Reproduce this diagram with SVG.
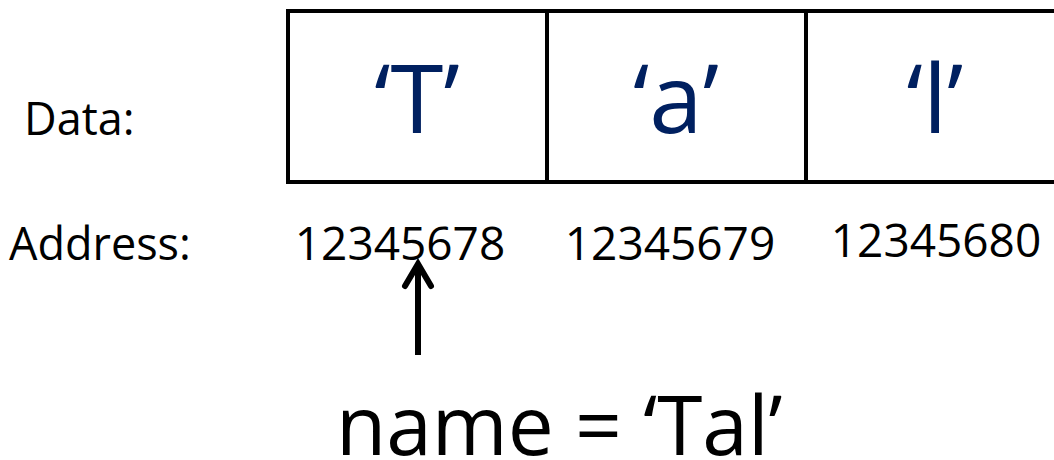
<svg xmlns="http://www.w3.org/2000/svg" width="1054" height="460" viewBox="0 0 1054 460">
  <style>
    .cell { fill: #ffffff; stroke: #000000; stroke-width: 4; }
    .val { font-family: "Open Sans", "Noto Sans", sans-serif; font-size: 96px; fill: #002060; text-anchor: middle; }
    .lbl { font-family: "Open Sans", "Noto Sans", sans-serif; font-size: 45px; fill: #000000; }
    .addr { font-family: "Open Sans", "Noto Sans", sans-serif; font-size: 46px; fill: #000000; text-anchor: middle; }
    .big { font-family: "Open Sans", "Noto Sans", sans-serif; font-size: 82px; fill: #000000; }
    .conn { stroke: #000000; stroke-width: 6; fill: none; }
  </style>
  <rect width="1054" height="460" fill="#ffffff"/>
  <g id="label-data"><text class="lbl" x="24" y="135">Data:</text></g>
  <g id="label-address"><text class="lbl" x="9" y="260">Address:</text></g>
  <g id="cell-T">
    <rect class="cell" x="288" y="11" width="259" height="171"/>
    <text class="val" x="417" y="133">‘T’</text>
    <text class="addr" x="400" y="260">12345678</text>
  </g>
  <g id="cell-a">
    <rect class="cell" x="547" y="11" width="259" height="171"/>
    <text class="val" x="676" y="133">‘a’</text>
    <text class="addr" x="670" y="260">12345679</text>
  </g>
  <g id="cell-l">
    <rect class="cell" x="806" y="11" width="262" height="171"/>
    <text class="val" x="935" y="133">‘l’</text>
    <text class="addr" x="936" y="257">12345680</text>
  </g>
  <g id="variable"><text class="big" x="336" y="455">name = ‘Tal’</text></g>
  <g id="connectors">
    <line class="conn" x1="418" y1="355" x2="418" y2="264"/>
    <polyline class="conn" points="405,286 418,264 431,286" stroke-linejoin="miter" stroke-linecap="round"/>
  </g>
</svg>
